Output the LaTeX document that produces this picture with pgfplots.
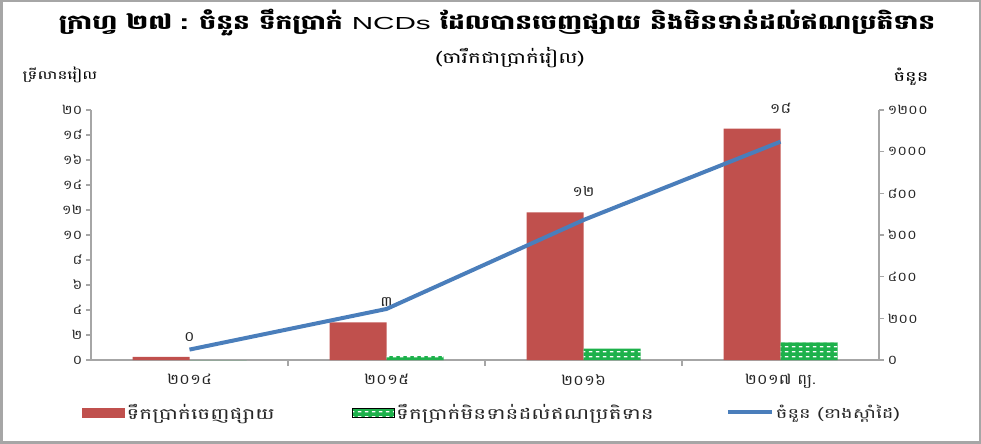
\documentclass[border=0pt]{standalone}
\usepackage{fontspec}
\usepackage{pgfplots}
\pgfplotsset{compat=1.18}
\usepackage{pgfplotstable}
\usetikzlibrary{patterns}
\setmainfont{Liberation Sans}
\newfontfamily\khmer[Script=Khmer, FakeStretch=1.4]{Battambang}
\newfontfamily\khmertick[Script=Khmer, FakeStretch=1.15]{Battambang}
\newfontfamily\khmertitle[Script=Khmer, FakeStretch=1.3]{Battambang}
\newfontfamily\latinwide[FakeStretch=1.7]{Liberation Sans}
\definecolor{barred}{HTML}{C0504D}
\definecolor{bargreen}{HTML}{1DB14B}
\definecolor{lineblue}{HTML}{4A7EBB}
\definecolor{axisgray}{HTML}{A6A6A6}
\pgfdeclarepatternformonly{dashrows}{\pgfpoint{0bp}{0bp}}{\pgfpoint{7bp}{5bp}}{\pgfpoint{7bp}{5bp}}{%
  \pgfpathrectangle{\pgfpoint{1bp}{1.8bp}}{\pgfpoint{4bp}{1.5bp}}\pgfusepath{fill}}

\pgfplotstableread{
x issued label
0 0.25 ០
1 3.0 ៣
2 11.8 ១២
3 18.5 ១៨
}\issued
\pgfplotstableread{
x pending
0 0.0
1 0.3
2 0.9
3 1.4
}\pending
\pgfplotstableread{
x count
0 50
1 245
2 672
3 1048
}\counts

\begin{document}
\begin{tikzpicture}
\useasboundingbox (0,0) rectangle (981bp,444bp);
\draw[axisgray, line width=2.5bp] (1.25bp,1.25bp) rectangle (979.75bp,442.75bp);
\node[font=\khmertitle\bfseries\fontsize{20.4}{24}\selectfont] at (497bp,421bp) {ក្រាហ្វ ២៧ : ចំនួន ទឹកប្រាក់ {\latinwide\mdseries\fontsize{17.5}{20}\selectfont NCDs} ដែលបានចេញផ្សាយ និងមិនទាន់ដល់ឥណប្រតិទាន};
\node[font=\khmer\fontsize{15.5}{17}\selectfont] at (510bp,386bp) {(ចារឹកជាប្រាក់រៀល)};
\node[font=\khmer\fontsize{12}{14}\selectfont] at (60bp,369bp) {ទ្រីលានរៀល};
\node[font=\khmer\fontsize{14}{16}\selectfont] at (911bp,367bp) {ចំនួន};

\begin{axis}[
  at={(91bp,84bp)}, anchor=south west,
  scale only axis, width=788bp, height=250bp,
  xmin=-0.5, xmax=3.5, ymin=0, ymax=20,
  axis x line*=bottom, axis y line*=left,
  axis line style={axisgray, line width=1.5bp},
  xtick={0,1,2,3},
  xticklabels={២០១៤,២០១៥,២០១៦,២០១៧ ព្យ.},
  minor xtick={0.5,1.5,2.5},
  ytick={0,2,...,20},
  yticklabels={០,២,៤,៦,៨,១០,១២,១៤,១៦,១៨,២០},
  tick align=outside,
  major tick length=5bp, minor tick length=6bp,
  tick style={axisgray, line width=1.2bp},
  xtick style={draw=none},
  minor x tick style={draw=axisgray, line width=1.2bp},
  ticklabel style={font=\khmertick\fontsize{13}{15}\selectfont, text=black!85},
  xticklabel style={yshift=-6bp, font=\khmertick\fontsize{14.5}{16}\selectfont},
  ybar=0pt, bar width=57bp,
  clip=false,
]
\addplot[fill=barred, draw=none,
  nodes near coords, point meta=explicit symbolic,
  every node near coord/.style={font=\khmertick\fontsize{14}{16}\selectfont, text=black!85, yshift=12bp}]
  table[x=x, y=issued, meta=label] {\issued};
\addplot[fill=bargreen, draw=none, postaction={pattern=dashrows, pattern color=white}]
  table[x=x, y=pending] {\pending};
\end{axis}

\begin{axis}[
  at={(91bp,84bp)}, anchor=south west,
  scale only axis, width=788bp, height=250bp,
  xmin=-0.5, xmax=3.5, ymin=0, ymax=1200,
  axis y line*=right, axis x line=none,
  axis line style={axisgray, line width=1.5bp},
  ytick={0,200,...,1200},
  yticklabels={០,២០០,៤០០,៦០០,៨០០,១០០០,១២០០},
  tick align=outside, major tick length=5bp,
  tick style={axisgray, line width=1.2bp},
  ticklabel style={font=\khmertick\fontsize{13}{15}\selectfont, text=black!85},
  legend columns=3,
  legend style={at={(0,-0.16)}, anchor=north west, xshift=-12bp, draw=none, fill=none,
    font=\khmer\fontsize{15.5}{17}\selectfont, text=black!85,
    /tikz/every even column/.append style={column sep=65bp}},
  legend cell align=left,
]
\addlegendimage{legend image code/.code={\fill[barred] (-2bp,-4.5bp) rectangle (40bp,4.5bp);}}
\addlegendentry{ទឹកប្រាក់ចេញផ្សាយ\rule{10bp}{0pt}}
\addlegendimage{legend image code/.code={\fill[bargreen] (-2bp,-4.5bp) rectangle (40bp,4.5bp); \fill[pattern=dashrows, pattern color=white] (-2bp,-4.5bp) rectangle (40bp,4.5bp);}}
\addlegendentry{ទឹកប្រាក់មិនទាន់ដល់ឥណប្រតិទាន\rule{5bp}{0pt}}
\addplot[lineblue, line width=4bp, no marks,
  legend image code/.code={\draw[lineblue, line width=4bp] (-2bp,0) -- (42bp,0);}]
  table[x=x, y=count] {\counts};
\addlegendentry{{\fontsize{14}{16}\selectfont ចំនួន (ខាងស្តាំដៃ)}}
\end{axis}
\end{tikzpicture}
\end{document}
